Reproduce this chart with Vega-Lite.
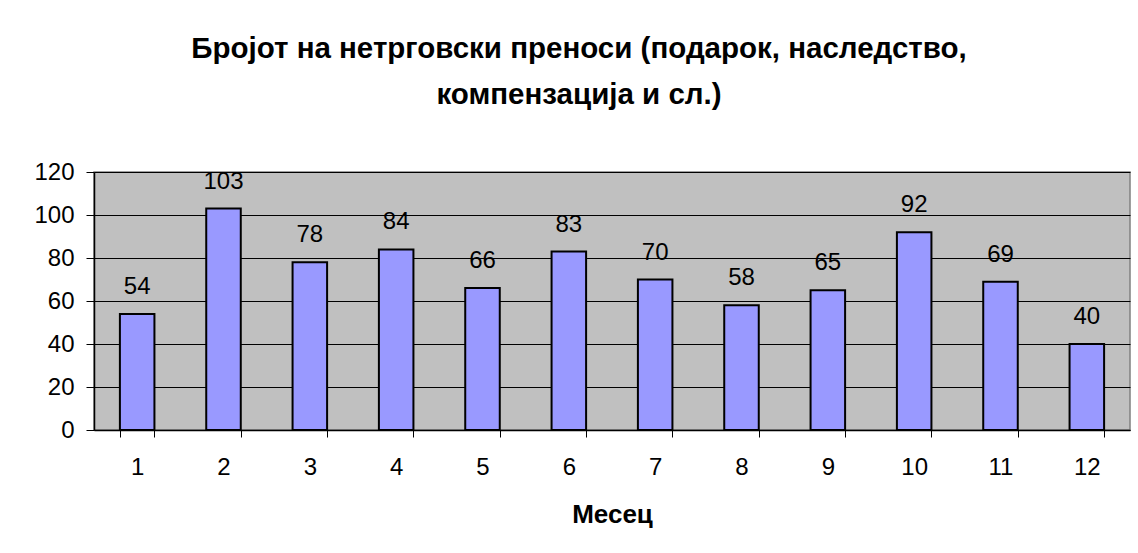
{
  "$schema": "https://vega.github.io/schema/vega-lite/v6.json",
  "width": 1036,
  "height": 258,
  "autosize": {"type": "none"},
  "padding": {"left": 94, "top": 172, "right": 8, "bottom": 123},
  "background": "white",
  "config": {
    "font": "Liberation Sans",
    "view": {"fill": "#C0C0C0", "stroke": "#808080", "strokeWidth": 1.5}
  },
  "title": {
    "text": ["Бројот на нетрговски преноси (подарок, наследство,", "компензација и сл.)"],
    "font": "Liberation Sans",
    "fontSize": 29.5,
    "fontWeight": "bold",
    "color": "black",
    "anchor": "middle",
    "frame": "group",
    "dx": -33,
    "lineHeight": 46,
    "offset": 50
  },
  "data": {
    "values": [
      {"month": "1", "count": 54},
      {"month": "2", "count": 103},
      {"month": "3", "count": 78},
      {"month": "4", "count": 84},
      {"month": "5", "count": 66},
      {"month": "6", "count": 83},
      {"month": "7", "count": 70},
      {"month": "8", "count": 58},
      {"month": "9", "count": 65},
      {"month": "10", "count": 92},
      {"month": "11", "count": 69},
      {"month": "12", "count": 40}
    ]
  },
  "encoding": {
    "x": {
      "field": "month",
      "type": "ordinal",
      "sort": null,
      "scale": {"paddingInner": 0.6, "paddingOuter": 0.3},
      "axis": {
        "title": "Месец",
        "titleFont": "Liberation Sans",
        "titleFontSize": 26,
        "titleFontWeight": "bold",
        "titleColor": "black",
        "titlePadding": 22,
        "labelAngle": 0,
        "labelFont": "Liberation Sans",
        "labelFontSize": 24,
        "labelColor": "black",
        "labelPadding": 18,
        "tickBand": "extent",
        "tickSize": 7,
        "tickColor": "black",
        "domainColor": "black",
        "domainWidth": 1.5,
        "grid": false
      }
    },
    "y": {
      "field": "count",
      "type": "quantitative",
      "scale": {"domain": [0, 120]},
      "axis": {
        "title": null,
        "values": [0, 20, 40, 60, 80, 100, 120],
        "labelFont": "Liberation Sans",
        "labelFontSize": 24,
        "labelColor": "black",
        "labelPadding": 12,
        "tickSize": 8,
        "tickColor": "black",
        "domainColor": "black",
        "domainWidth": 1.5,
        "grid": true,
        "gridColor": "black",
        "gridWidth": 1
      }
    }
  },
  "layer": [
    {
      "mark": {"type": "bar", "fill": "#9999FF", "stroke": "black", "strokeWidth": 2}
    },
    {
      "mark": {"type": "text", "baseline": "alphabetic", "dy": -20, "fontSize": 24, "font": "Liberation Sans", "color": "black"},
      "encoding": {"text": {"field": "count", "type": "quantitative"}}
    }
  ]
}
